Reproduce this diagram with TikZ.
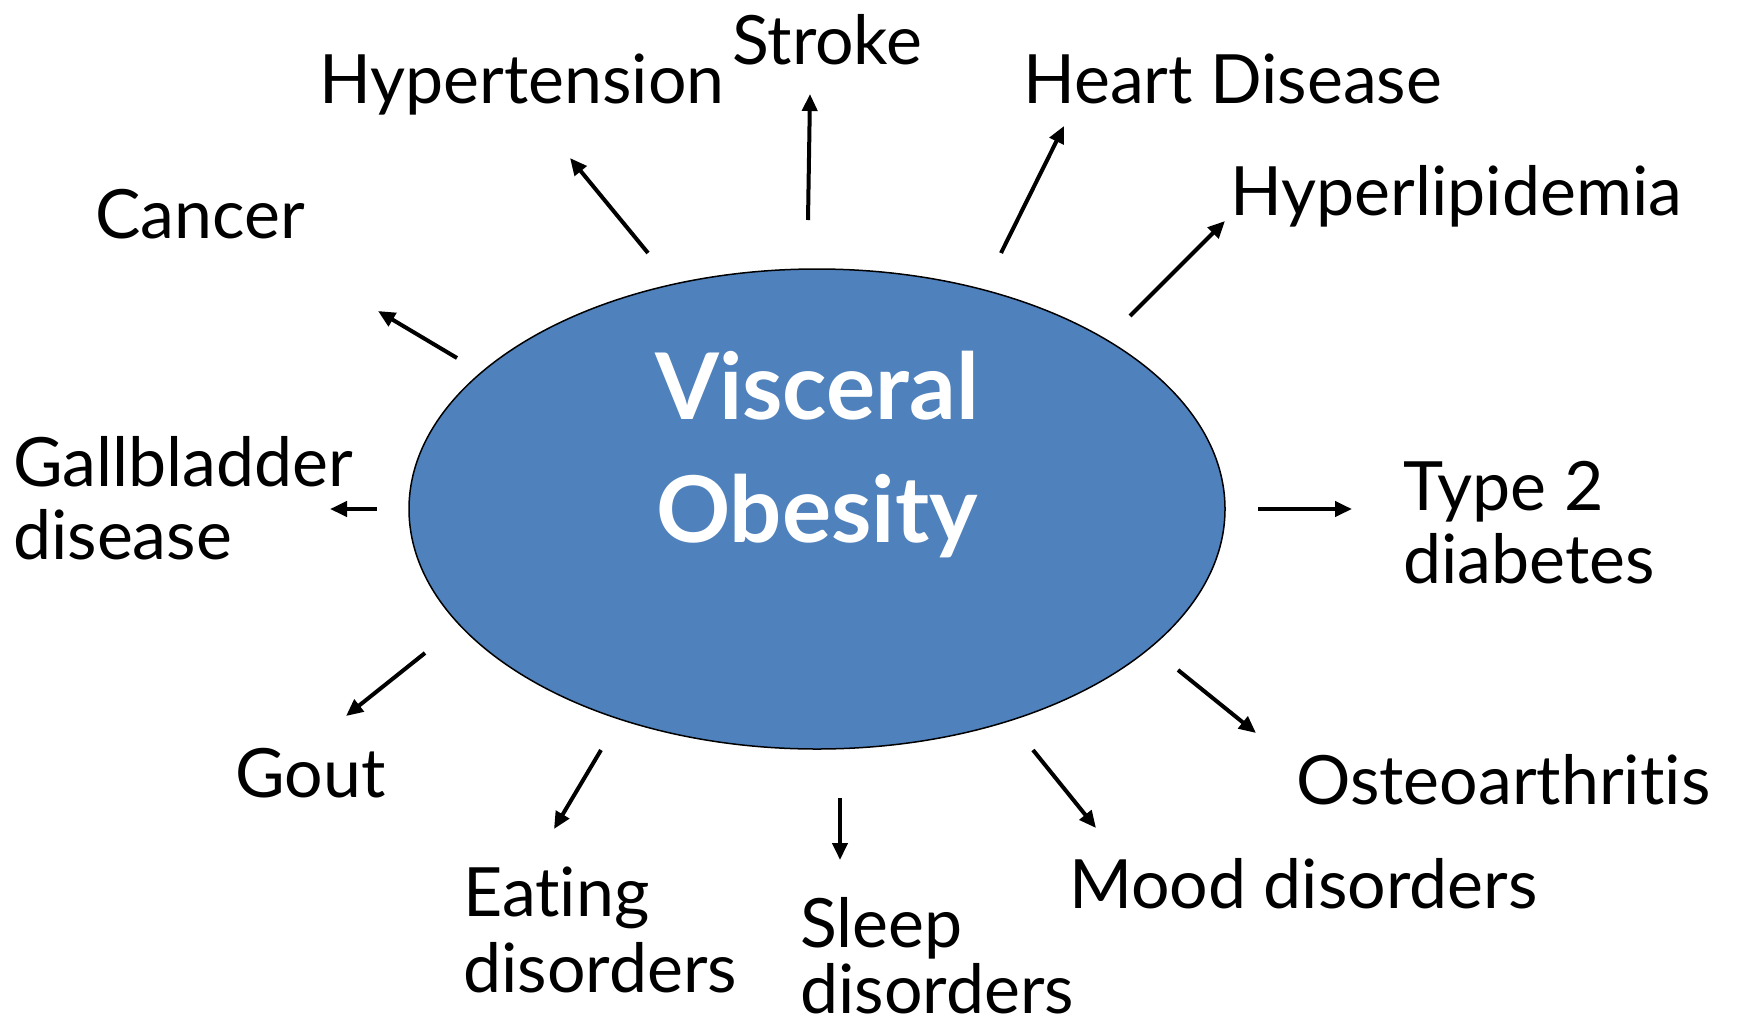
\documentclass[tikz,border=0pt]{standalone}
\usepackage{fontspec}
\setmainfont{Lato}[Ligatures=NoCommon]
\usetikzlibrary{arrows.meta,shapes.geometric}
\definecolor{obblue}{HTML}{4F81BD}
\begin{document}
\begin{tikzpicture}[x=1pt,y=-1pt,
  lbl/.style={anchor=base west,inner sep=0pt,font=\fontsize{68}{73}\selectfont,align=left},
  arr/.style={line width=4pt,-{Triangle[length=17pt,width=15pt]}},
  ctr/.style={font=\bfseries\fontsize{92}{123}\selectfont,text=white,align=center,inner sep=0pt}]
\useasboundingbox (0,0) rectangle (1752,1029);
\fill[white] (0,0) rectangle (1752,1029);
% ellipse
\node[draw=black,line width=1.5pt,fill=obblue,ellipse,minimum width=816pt,minimum height=480pt,inner sep=0pt] (ell) at (817,509) {};
\node[ctr,anchor=base] (vis) at (817,419) {Visceral};
\node[ctr,anchor=base] (obe) at (817,542) {Obesity};
% labels
\node[lbl] (hyp) at (319,103) {Hypertension};
\node[lbl] (str) at (732,64) {Stroke};
\node[lbl] (hea) at (1023,103) {Heart Disease};
\node[lbl] (lip) at (1230,215) {Hyperlipidemia};
\node[lbl] (can) at (95,238) {Cancer};
\node[lbl] (gal1) at (13,486) {Gallbladder};
\node[lbl] (gal2) at (13,559) {disease};
\node[lbl] (typ1) at (1403,510) {Type 2};
\node[lbl] (typ2) at (1403,583) {diabetes};
\node[lbl] (gou) at (235,797) {Gout};
\node[lbl] (ost) at (1296,804) {Osteoarthritis};
\node[lbl] (eat1) at (463,916) {Eating};
\node[lbl] (eat2) at (463,992) {disorders};
\node[lbl] (sle1) at (800,947) {Sleep};
\node[lbl] (sle2) at (800,1013) {disorders};
\node[lbl] (moo) at (1069,908) {Mood disorders};
% arrow ends
\coordinate (a1s) at (648,253); \coordinate (a1e) at (570,158);
\coordinate (a2s) at (808,220); \coordinate (a2e) at (810,94);
\coordinate (a3s) at (1001,253); \coordinate (a3e) at (1064,126);
\coordinate (a4s) at (1130,316); \coordinate (a4e) at (1225,221);
\coordinate (a5s) at (457,358); \coordinate (a5e) at (378,311);
\coordinate (a6s) at (377,509); \coordinate (a6e) at (330,509);
\coordinate (a7s) at (1258,509); \coordinate (a7e) at (1352,509);
\coordinate (a8s) at (425,653); \coordinate (a8e) at (346,716);
\coordinate (a9s) at (601,750); \coordinate (a9e) at (554,829);
\coordinate (a10s) at (840,798); \coordinate (a10e) at (840,860);
\coordinate (a11s) at (1033,750); \coordinate (a11e) at (1096,828);
\coordinate (a12s) at (1178,670); \coordinate (a12e) at (1256,733);
\foreach \i in {1,...,12} {\draw[arr] (a\i s) -- (a\i e);}
\end{tikzpicture}
\end{document}
